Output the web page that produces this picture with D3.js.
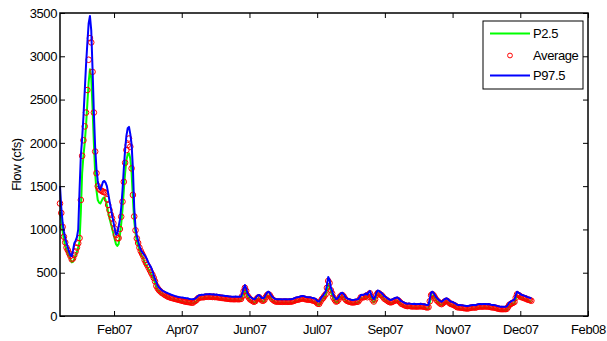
<!DOCTYPE html>
<html>
<head>
<meta charset="utf-8">
<script src="https://cdn.jsdelivr.net/npm/d3@7"></script>
<style>
  html, body { margin: 0; padding: 0; background: #fff; }
  svg { display: block; }
  text { font-family: "Liberation Sans", Arial, sans-serif; fill: #000; }
</style>
</head>
<body>
<svg id="chart" width="607" height="341"></svg>
<script>
// ---- data (daily values, day 0 = first day shown) ----
const p975 = [
1500,1250,1080,980,900,840,790,740,700,690,
760,840,870,910,1000,1450,1850,2050,2300,2600,
2900,3150,3380,3465,3300,2850,2350,1950,1700,1560,
1480,1460,1500,1550,1560,1540,1500,1420,1330,1250,
1170,1090,1010,940,950,1030,1110,1250,1450,1700,
1920,2080,2170,2185,2100,1980,1700,1250,1020,930,
870,810,770,740,720,700,680,650,610,585,
560,520,470,430,390,350,330,315,300,290,
282,275,268,262,255,248,243,238,232,228,
224,220,218,215,213,210,208,206,204,200,
197,195,193,196,205,215,232,240,243,246,
244,248,250,252,250,253,250,248,251,246,
248,245,243,240,238,236,234,231,230,228,
225,224,223,223,222,224,223,222,223,225,
262,320,358,320,262,240,220,212,200,193,
200,225,240,243,225,208,204,215,245,270,
281,270,245,223,210,200,195,193,195,193,
194,192,195,193,194,192,195,193,196,200,
205,212,216,218,222,228,231,230,225,220,
218,216,218,212,208,204,200,185,170,168,
195,220,235,260,281,360,450,420,330,290,
240,215,195,200,220,250,265,268,250,225,
208,200,195,190,186,185,187,190,192,195,
215,243,245,243,250,262,245,275,290,250,
215,195,220,270,295,290,275,268,250,230,
220,210,198,190,185,190,198,205,210,215,
205,190,172,165,158,150,145,142,146,142,
140,138,141,139,137,140,139,142,139,137,
135,130,127,130,200,270,281,265,240,215,
200,185,172,165,175,190,200,204,195,180,
168,165,158,150,142,130,128,127,125,124,
120,118,116,115,118,122,125,127,128,125,
130,135,138,139,136,138,140,139,137,139,
135,130,128,127,125,120,115,112,108,108,
107,108,108,110,130,155,165,175,182,190,
240,281,270,262,248,243,238,232,228,218,
215,210,204
];
const average = [
1300,1190,1030,916,850,790,760,725,693,655,
665,705,745,790,840,900,1340,1850,2030,2190,
2350,2610,2960,3210,3160,2820,2350,1900,1650,1500,
1470,1455,1445,1436,1430,1424,1350,1282,1224,1170,
1128,1071,1010,935,897,900,1005,1147,1320,1550,
1770,1917,1975,2050,1955,1705,1398,1150,990,897,
843,790,750,720,690,647,615,589,560,531,
500,474,440,400,347,320,300,285,270,262,
250,240,232,223,218,212,208,204,200,196,
192,188,185,180,176,172,168,165,163,160,
158,155,154,168,175,188,205,212,215,218,
216,220,222,224,222,225,222,220,223,218,
220,217,215,212,210,208,206,203,202,200,
197,196,195,195,194,196,195,194,195,197,
230,285,325,290,235,212,192,184,172,165,
172,197,212,215,197,180,176,187,217,240,
252,242,217,195,182,172,167,165,167,165,
166,164,167,165,166,164,167,165,168,172,
177,184,188,190,194,200,203,202,197,192,
190,188,190,184,180,176,172,157,142,140,
167,192,207,230,250,325,405,380,298,260,
212,187,167,172,192,222,237,240,222,197,
180,172,167,162,158,157,159,162,164,167,
187,215,217,215,222,234,217,247,262,222,
187,167,192,242,265,262,247,240,222,202,
192,182,170,162,157,162,170,177,182,187,
177,162,144,137,130,122,117,114,118,114,
112,110,113,111,109,112,111,114,111,109,
107,102,99,102,170,240,252,237,212,187,
172,157,144,137,147,162,172,176,167,152,
140,137,130,122,114,102,100,99,97,96,
92,90,88,87,90,94,97,99,100,97,
102,107,110,111,108,110,112,111,109,111,
107,102,100,99,97,92,87,84,80,80,
79,80,80,82,102,127,137,147,154,162,
210,250,242,234,220,215,210,204,200,190,
187,182,176
];
const p25 = [
1200,1120,980,880,810,760,720,690,650,620,
625,660,700,740,790,860,1200,1650,1850,2000,
2200,2450,2700,2850,2750,2400,2000,1650,1450,1340,
1310,1300,1330,1360,1370,1340,1280,1200,1130,1070,
1010,950,890,830,810,830,930,1060,1230,1450,
1650,1800,1870,1880,1820,1650,1350,1100,960,860,
810,770,720,690,660,620,590,565,540,510,
480,455,420,380,330,305,285,272,258,250,
238,230,222,214,208,203,198,194,190,186,
182,178,175,171,167,163,160,157,155,152,
150,148,147,156,163,176,193,200,203,206,
204,208,210,212,210,213,210,208,211,206,
208,205,203,200,198,196,194,191,190,188,
185,184,183,183,182,184,183,182,183,185,
215,265,300,270,220,200,180,172,160,153,
160,185,200,203,185,168,164,175,205,225,
237,228,205,183,170,160,155,153,155,153,
154,152,155,153,154,152,155,153,156,160,
165,172,176,178,182,188,191,190,185,180,
178,176,178,172,168,164,160,145,130,128,
155,180,195,215,232,295,370,350,280,245,
200,175,155,160,180,210,225,228,210,185,
168,160,155,150,146,145,147,150,152,155,
175,203,205,203,210,222,205,235,248,210,
175,155,180,228,250,248,235,228,210,190,
180,170,158,150,145,150,158,165,170,175,
165,150,132,125,118,110,105,102,106,102,
100,98,101,99,97,100,99,102,99,97,
95,90,87,90,155,225,238,225,200,175,
160,145,132,125,135,150,160,164,155,140,
128,125,118,110,102,90,88,87,85,84,
80,78,76,75,78,82,85,87,88,85,
90,95,98,99,96,98,100,99,97,99,
95,90,88,87,85,80,75,72,68,68,
67,68,68,70,90,115,125,135,142,150,
195,235,230,222,208,203,198,192,188,178,
175,170,164
];
// axis ticks (day offsets from first day) and their labels
const tickDays   = [41.5, 93.5, 145.5, 197.5, 249.5, 301.5, 353.5, 405.5];
const tickLabels = ["Feb07","Apr07","Jun07","Jul07","Sep07","Nov07","Dec07","Feb08"];
const yTicks     = [0, 500, 1000, 1500, 2000, 2500, 3000, 3500];
const seriesNames = ["P2.5", "Average", "P97.5"];

// ---- layout ----
const L = 60, R = 588, T = 13, B = 316;
const svg = d3.select("#chart");
const x = d3.scaleLinear().domain([0, 405.5]).range([L, R]);
const y = d3.scaleLinear().domain([0, 3500]).range([B, T]);

const font = { size: "13px", ls: "-0.4px" };
const markerR = 2.8;

svg.append("rect").attr("x", L).attr("y", T).attr("width", R - L).attr("height", B - T)
  .attr("fill", "#fff");

const plot = svg.append("g");
const line = d3.line().x((d, i) => x(i)).y(d => y(d));

plot.append("path").datum(p25).attr("d", line)
  .attr("fill", "none").attr("stroke", "#00ff00").attr("stroke-width", 2).attr("stroke-linejoin", "round");

plot.append("g").selectAll("circle").data(average).join("circle")
  .attr("cx", (d, i) => x(i)).attr("cy", d => y(d)).attr("r", markerR)
  .attr("fill", "none").attr("stroke", "#ff0000").attr("stroke-width", 1);

plot.append("path").datum(p975).attr("d", line)
  .attr("fill", "none").attr("stroke", "#0000ff").attr("stroke-width", 2).attr("stroke-linejoin", "round");

// axes
const styleAxis = g => {
  g.select(".domain").remove();
  g.selectAll(".tick line").attr("stroke", "#000").attr("stroke-width", 1);
  g.selectAll(".tick text").attr("font-size", font.size).attr("letter-spacing", font.ls)
    .attr("font-family", "Liberation Sans, Arial, sans-serif").attr("fill", "#000");
};
svg.append("g").attr("transform", `translate(0,${B})`)
  .call(d3.axisBottom(x).tickValues(tickDays).tickFormat((d, i) => tickLabels[i]).tickSizeInner(-5).tickSizeOuter(0).tickPadding(9))
  .call(styleAxis);
svg.append("g").attr("transform", `translate(0,${T})`)
  .call(d3.axisTop(x).tickValues(tickDays).tickFormat("").tickSizeInner(-5).tickSizeOuter(0))
  .call(styleAxis);
svg.append("g").attr("transform", `translate(${L},0)`)
  .call(d3.axisLeft(y).tickValues(yTicks).tickFormat(d3.format("d")).tickSizeInner(-5).tickSizeOuter(0).tickPadding(3))
  .call(styleAxis);
svg.append("g").attr("transform", `translate(${R},0)`)
  .call(d3.axisRight(y).tickValues(yTicks).tickFormat("").tickSizeInner(-5).tickSizeOuter(0))
  .call(styleAxis);

svg.append("rect").attr("x", L).attr("y", T).attr("width", R - L).attr("height", B - T)
  .attr("fill", "none").attr("stroke", "#000").attr("stroke-width", 1.5);

// y label
svg.append("text").attr("transform", `translate(21,${(T + B) / 2}) rotate(-90)`)
  .attr("text-anchor", "middle").attr("font-size", font.size).attr("letter-spacing", font.ls)
  .text("Flow (cfs)");

// legend
const lg = svg.append("g");
lg.append("rect").attr("x", 483).attr("y", 21).attr("width", 100).attr("height", 68)
  .attr("fill", "#fff").attr("stroke", "#000").attr("stroke-width", 1);
const rows = [33.5, 55.5, 75.5];
lg.append("line").attr("x1", 490).attr("x2", 530).attr("y1", rows[0]).attr("y2", rows[0])
  .attr("stroke", "#00ff00").attr("stroke-width", 2);
lg.append("circle").attr("cx", 510).attr("cy", rows[1]).attr("r", 2.4)
  .attr("fill", "none").attr("stroke", "#ff0000").attr("stroke-width", 1);
lg.append("line").attr("x1", 490).attr("x2", 530).attr("y1", rows[2]).attr("y2", rows[2])
  .attr("stroke", "#0000ff").attr("stroke-width", 2);
lg.selectAll("text.lab").data(seriesNames).join("text").attr("class", "lab")
  .attr("x", 533).attr("y", (d, i) => rows[i]).attr("dy", "0.36em")
  .attr("font-size", font.size).attr("letter-spacing", font.ls).text(d => d);
</script>
</body>
</html>
